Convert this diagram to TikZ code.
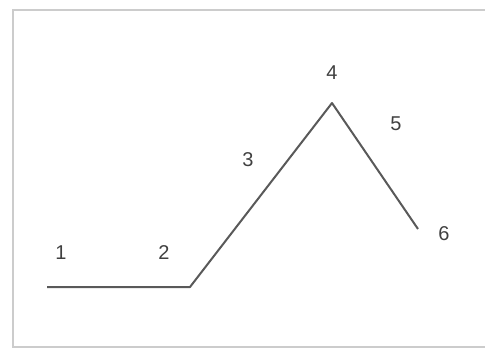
\documentclass[tikz,border=0pt]{standalone}
\usepackage{fontspec}
\setmainfont{Liberation Sans}
\begin{document}
\begin{tikzpicture}[x=1pt, y=1pt, font=\fontsize{20}{20}\selectfont]
\useasboundingbox (0,0) rectangle (485,349);
\draw[line width=1.5pt, black!20] (500,339) -- (13,339) -- (13,2) -- (500,2);
\coordinate (A) at (47,62);
\coordinate (B) at (190,62);
\coordinate (C) at (332,246);
\coordinate (D) at (418,120);
\draw[line width=2pt, black!65, line join=round] (A) -- (B) -- (C) -- (D);
\node[text=black!75] (n1) at (61,96) {1};
\node[text=black!75] (n2) at (164,96) {2};
\node[text=black!75] (n3) at (248,189) {3};
\node[text=black!75] (n4) at (332,276) {4};
\node[text=black!75] (n5) at (396,225) {5};
\node[text=black!75] (n6) at (444,115) {6};
\end{tikzpicture}
\end{document}
